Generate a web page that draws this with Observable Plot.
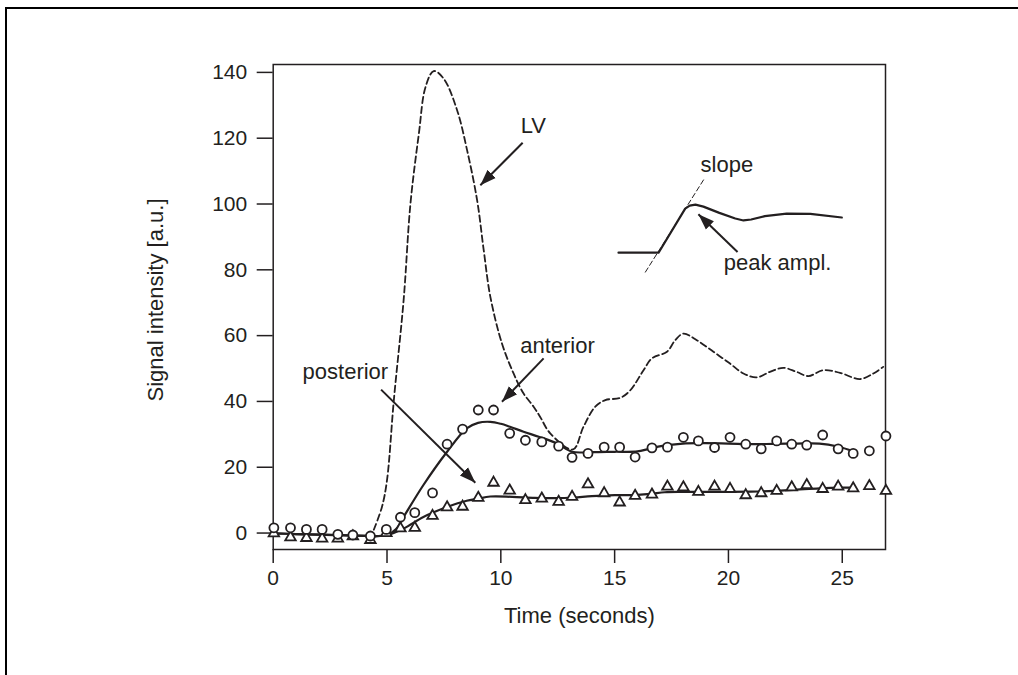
<!DOCTYPE html>
<html><head><meta charset="utf-8">
<script src="https://cdn.jsdelivr.net/npm/d3@7"></script>
<script src="https://cdn.jsdelivr.net/npm/@observablehq/plot@0.6"></script>
<style>
html,body{margin:0;padding:0;background:#fff;}
#wrap{position:relative;width:1018px;height:675px;overflow:hidden;background:#fff;}
#border{position:absolute;left:5px;top:7px;width:1040px;height:720px;border-top:2px solid #000;border-left:2px solid #000;}
#chart{position:absolute;left:0;top:0;}
</style></head>
<body><div id="wrap"><div id="border"></div><div id="chart"></div></div>
<script>
// ---- data ----
const sampleTime = [0.03, 0.76, 1.46, 2.15, 2.84, 3.5, 4.27, 4.97, 5.59, 6.22, 7.0, 7.64, 8.32, 9.01, 9.68, 10.39, 11.08, 11.8, 12.54, 13.13, 13.83, 14.54, 15.22, 15.9, 16.64, 17.32, 18.02, 18.68, 19.39, 20.07, 20.76, 21.44, 22.12, 22.78, 23.44, 24.14, 24.82, 25.48, 26.19, 26.92];
const anteriorSamples = [1.6, 1.6, 1.1, 1.1, -0.4, -0.6, -0.9, 1.1, 4.8, 6.2, 12.2, 27.0, 31.6, 37.4, 37.4, 30.3, 28.2, 27.7, 26.4, 23.0, 24.2, 26.1, 26.1, 23.1, 25.9, 26.1, 29.1, 28.0, 26.0, 29.1, 27.0, 25.6, 28.0, 27.0, 26.7, 29.8, 25.6, 24.2, 25.0, 29.5];
const posteriorSamples = [-0.1, -1.3, -1.5, -1.7, -1.7, -1.0, -2.1, 0.0, 1.4, 1.6, 5.2, 7.8, 8.0, 10.7, 15.3, 12.9, 10.0, 10.5, 9.5, 11.0, 14.8, 12.1, 9.3, 11.3, 11.7, 14.1, 13.9, 12.5, 14.1, 13.4, 11.5, 12.1, 12.8, 13.9, 14.6, 13.4, 14.1, 13.6, 14.3, 12.8];

const anteriorFitTime = [0, 1, 2, 3, 4, 4.5, 5, 5.4, 5.73, 6.6, 7.64, 8.5, 9.0, 9.54, 10.0, 10.4, 11.0, 11.7, 12.47, 13.13, 14, 15, 16, 16.5, 17.1, 18, 19, 20, 21, 22, 23, 24, 24.8, 25.5];
const anteriorFit = [-0.1, -0.3, -0.5, -0.6, -0.8, -0.9, -0.6, 1.2, 4.9, 14.6, 24.7, 31.8, 33.5, 33.8, 33.2, 32.3, 30.8, 29.2, 27.2, 24.7, 24.6, 24.7, 24.8, 25.6, 26.5, 27.2, 27.3, 27.2, 27.0, 27.1, 27.2, 27.2, 26.3, 24.8];

const posteriorFitTime = [0, 1, 2, 3, 4, 4.5, 5, 5.73, 6.6, 7.64, 8.5, 8.96, 9.54, 10.5, 11.5, 12.5, 13.2, 14, 15, 16, 16.6, 17.2, 18, 19, 20, 21, 22, 23, 24, 25, 25.5];
const posteriorFit = [-0.1, -0.3, -0.5, -0.7, -0.9, -1.0, -0.6, 1.4, 4.9, 7.9, 9.8, 10.4, 11.1, 11.0, 10.7, 10.6, 10.8, 11.2, 11.5, 11.6, 11.9, 12.4, 12.5, 12.5, 12.5, 12.6, 12.8, 13.2, 13.6, 13.8, 13.8];

const lvTime = [4.42, 4.78, 5.0, 5.3, 5.73, 6.03, 6.4, 6.69, 7.05, 7.49, 8.08, 8.52, 8.96, 9.25, 9.54, 10.05, 10.56, 11.0, 11.44, 11.73, 12.17, 13.17, 13.63, 14.15, 14.59, 15.25, 15.69, 16.27, 16.64, 17.3, 17.66, 18.02, 18.61, 19.34, 20.07, 20.66, 21.24, 21.82, 22.41, 22.99, 23.51, 24.16, 24.9, 25.78, 26.37, 26.8];
const lvSignal = [1.0, 8.0, 16.1, 40.4, 70.8, 100.1, 121.4, 135.5, 140.4, 138.1, 128.5, 116.3, 101.1, 85.9, 71.8, 57.6, 48.5, 42.4, 38.4, 35.3, 30.3, 25.4, 32.3, 38.4, 40.4, 41.1, 43.4, 49.5, 53.1, 55.1, 58.6, 60.6, 58.6, 55.1, 51.5, 48.5, 47.3, 49.0, 50.2, 49.0, 47.7, 49.5, 48.7, 46.8, 48.5, 50.5];

// inset schematic (slope / peak amplitude), in data units
const insetTime = [15.17, 16.93, 18.1, 18.3, 18.55, 18.9, 19.6, 20.3, 20.66, 21.0, 21.6, 22.56, 23.6, 24.98];
const insetSignal = [85.2, 85.2, 98.6, 99.5, 99.8, 99.2, 97.3, 95.6, 95.0, 95.3, 96.3, 97.1, 97.0, 95.9];
const slopeTime = [16.35, 18.94];
const slopeSignal = [79.3, 107.7];

// annotations
const labelText = ["LV", "anterior", "posterior", "slope", "peak ampl."];
const labelTime = [11.43, 12.49, 3.17, 19.93, 22.16];
const labelSignal = [123.6, 56.8, 49.0, 111.9, 82.1];

const arrowFromTime = [10.96, 11.88, 4.74, 20.4];
const arrowFromSignal = [118.6, 53.1, 43.6, 85.4];
const arrowToTime = [9.1, 10.05, 8.88, 18.68];
const arrowToSignal = [105.7, 39.9, 15.3, 96.9];

const xTicks = [0, 5, 10, 15, 20, 25];
const yTicks = [0, 20, 40, 60, 80, 100, 120, 140];
const xTitle = "Time (seconds)";
const yTitle = "Signal intensity [a.u.]";

// ---- tables ----
const zip = (xs, ys) => xs.map((t, i) => ({t, v: ys[i]}));
const anteriorRows = zip(sampleTime, anteriorSamples);
const posteriorRows = zip(sampleTime, posteriorSamples);
const anteriorFitRows = zip(anteriorFitTime, anteriorFit);
const posteriorFitRows = zip(posteriorFitTime, posteriorFit);
const lvRows = zip(lvTime, lvSignal);
const insetRows = zip(insetTime, insetSignal);
const slopeRows = zip(slopeTime, slopeSignal);
const labelRows = labelText.map((s, i) => ({s, t: labelTime[i], v: labelSignal[i]}));
const arrowRows = arrowFromTime.map((t, i) => ({x1: t, y1: arrowFromSignal[i], x2: arrowToTime[i], y2: arrowToSignal[i]}));

const ink = "#231f20";

function filledArrow(color, context) {
  const doc = (context && context.document) || document;
  const ns = "http://www.w3.org/2000/svg";
  const m = doc.createElementNS(ns, "marker");
  m.setAttribute("viewBox", "-10 -5 10 10");
  m.setAttribute("markerUnits", "userSpaceOnUse");
  m.setAttribute("markerWidth", 16);
  m.setAttribute("markerHeight", 16);
  m.setAttribute("refX", 0);
  m.setAttribute("refY", 0);
  m.setAttribute("orient", "auto");
  const p = doc.createElementNS(ns, "path");
  p.setAttribute("d", "M0,0L-10,-3.6L-10,3.6Z");
  p.setAttribute("fill", color);
  p.setAttribute("stroke", "none");
  m.appendChild(p);
  return m;
}

function build(marker) {
  return Plot.plot({
    width: 1018,
    height: 675,
    marginLeft: 272.7,
    marginRight: 133,
    marginTop: 64,
    marginBottom: 126,
    x: {domain: [0, 26.9]},
    y: {domain: [-5, 142.4]},
    style: {fontFamily: "'Liberation Sans', Arial, Helvetica, sans-serif", color: ink, background: "transparent", overflow: "visible"},
    marks: [
      Plot.axisY({ticks: yTicks, tickSize: 16, tickPadding: 10, fontSize: 21, label: null, strokeWidth: 1.5}),
      Plot.axisX({ticks: xTicks, tickSize: 14, tickPadding: 7, fontSize: 21, label: null, strokeWidth: 1.5}),
      Plot.frame({stroke: ink, strokeWidth: 1.5}),
      Plot.line(lvRows, {x: "t", y: "v", stroke: ink, strokeWidth: 1.8, strokeDasharray: "6.5,3.5", curve: "catmull-rom"}),
      Plot.line(anteriorFitRows, {x: "t", y: "v", stroke: ink, strokeWidth: 2.2, curve: "catmull-rom"}),
      Plot.line(posteriorFitRows, {x: "t", y: "v", stroke: ink, strokeWidth: 2.2, curve: "catmull-rom"}),
      Plot.line(insetRows, {x: "t", y: "v", stroke: ink, strokeWidth: 2.2, curve: "linear", strokeLinejoin: "round"}),
      Plot.line(slopeRows, {x: "t", y: "v", stroke: ink, strokeWidth: 1, strokeDasharray: "5,3"}),
      Plot.dot(posteriorRows, {x: "t", y: "v", symbol: "triangle", r: 3.9, stroke: ink, strokeWidth: 1.8, fill: "white"}),
      Plot.dot(anteriorRows, {x: "t", y: "v", symbol: "circle", r: 4.5, stroke: ink, strokeWidth: 1.8, fill: "white"}),
      Plot.link(arrowRows, {x1: "x1", y1: "y1", x2: "x2", y2: "y2", stroke: ink, strokeWidth: 2, markerEnd: marker}),
      Plot.text(labelRows, {x: "t", y: "v", text: "s", fontSize: 22, lineAnchor: "middle", fill: ink}),
      Plot.text([xTitle], {frameAnchor: "bottom", text: d => d, fontSize: 22, textAnchor: "middle", lineAnchor: "bottom", dy: 73.5, fill: ink}),
      Plot.text([yTitle], {frameAnchor: "left", text: d => d, fontSize: 22, textAnchor: "middle", rotate: -90, lineAnchor: "bottom", dx: -110, dy: -7, fill: ink})
    ]
  });
}

let chart;
try { chart = build(filledArrow); } catch (e) { chart = build("arrow"); }
document.getElementById("chart").appendChild(chart);
</script>
</body></html>
